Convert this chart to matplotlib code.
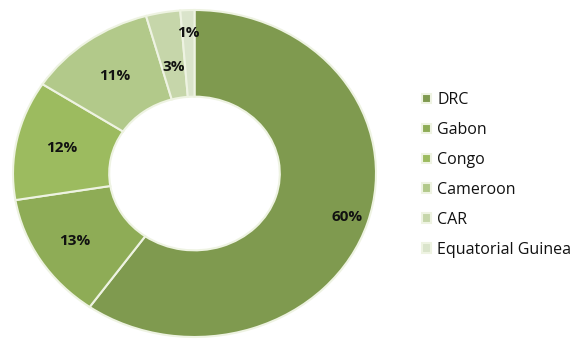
import matplotlib.pyplot as plt
import numpy as np

countries = ["DRC", "Gabon", "Congo", "Cameroon", "CAR", "Equatorial Guinea"]
shares = [59.8, 12.6, 11.8, 11.5, 3.05, 1.25]
pct_labels = ["60%", "13%", "12%", "11%", "3%", "1%"]
colors = ["#7f9a4f", "#8eac56", "#9cbb5f", "#b2c98a", "#c6d6aa", "#dae4cb"]
label_radius = [0.88, 0.78, 0.75, 0.74, 0.66, 0.86]

plt.rcParams['font.family'] = ['Open Sans', 'DejaVu Sans']

W, H = 580, 342
fig = plt.figure(figsize=(W / 100, H / 100), dpi=100)

# donut box (pixels): left 13, right 376, top 10, bottom 337
ax = fig.add_axes([13 / W, (H - 337) / H, (376 - 13) / W, (337 - 10) / H])
wedges, _ = ax.pie(shares, colors=colors, startangle=90, counterclock=False,
                   radius=1, wedgeprops=dict(width=0.53, edgecolor='#eef3e2', linewidth=1.5))
ax.set_aspect('auto')
ax.set_xlim(-1, 1)
ax.set_ylim(-1, 1)

# percentage labels at the middle of each wedge
total = sum(shares)
cum = np.cumsum([0] + shares[:-1])
for s, c, lab, r in zip(shares, cum, pct_labels, label_radius):
    ang = np.deg2rad(90 - 360 * (c + s / 2) / total)
    ax.text(r * np.cos(ang), r * np.sin(ang), lab, ha='center', va='center',
            fontsize=11, fontweight='bold', color='#111111')

fig.legend(wedges, countries, loc='center left', bbox_to_anchor=(422 / W, 1 - 175 / H),
           frameon=False, fontsize=11.5, handlelength=0.55, handleheight=0.55,
           handletextpad=0.4, labelspacing=0.87, borderpad=0, borderaxespad=0,
           labelcolor='#111111')

fig.savefig("out.png", dpi=100)
